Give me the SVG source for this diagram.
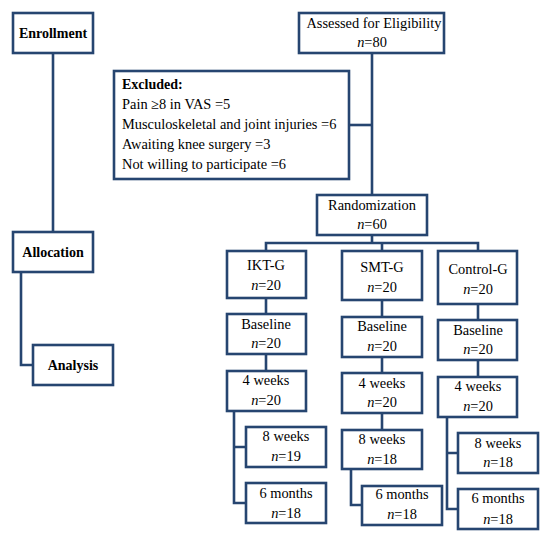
<svg xmlns="http://www.w3.org/2000/svg" width="552" height="535" viewBox="0 0 552 535">
<style>
.b{fill:#fff;stroke:#264570;stroke-width:2.6}
.c{fill:none;stroke:#264570;stroke-width:2.6}
</style>
<rect width="552" height="535" fill="#fff"/>
<g id="connectors">
<path class="c" d="M53 53V232"/>
<path class="c" d="M21 272V365H33"/>
<path class="c" d="M372 53V195"/>
<path class="c" d="M349 125H372"/>
<path class="c" d="M372 235V243M266 251V243H478V251M382 243V251"/>
<path class="c" d="M266 298V314M266 354V371"/>
<path class="c" d="M234 411V503H246M234 447H246"/>
<path class="c" d="M382 300V317M382 357V373M382 413V430"/>
<path class="c" d="M351 469V505H362"/>
<path class="c" d="M478 304V320M478 360V377"/>
<path class="c" d="M447 417V509H458M447 453H458"/>
</g>
<g id="enrollment"><rect class="b" x="13" y="13" width="80" height="40"/><text x="53" y="38" text-anchor="middle" style="font-family:'Liberation Serif','Times New Roman',serif;font-size:14px;font-weight:bold">Enrollment</text></g>
<g id="allocation"><rect class="b" x="13" y="232" width="80" height="40"/><text x="53" y="257" text-anchor="middle" style="font-family:'Liberation Serif','Times New Roman',serif;font-size:14px;font-weight:bold">Allocation</text></g>
<g id="analysis"><rect class="b" x="33" y="345" width="80" height="40"/><text x="73" y="370" text-anchor="middle" style="font-family:'Liberation Serif','Times New Roman',serif;font-size:14px;font-weight:bold">Analysis</text></g>
<g id="assessed"><rect class="b" x="299" y="13" width="145" height="40"/><text x="374" y="28" text-anchor="middle" style="font-family:'Liberation Serif','Times New Roman',serif;font-size:14.4px">Assessed for Eligibility</text><text x="372" y="47" text-anchor="middle" style="font-family:'Liberation Serif','Times New Roman',serif;font-size:14.4px"><tspan font-style="italic">n</tspan>=80</text></g>
<g id="excluded"><rect class="b" x="114" y="71" width="235" height="108"/>
<text x="122" y="89" style="font-family:'Liberation Serif','Times New Roman',serif;font-size:14px;font-weight:bold">Excluded:</text>
<text x="122" y="109" style="font-family:'Liberation Serif','Times New Roman',serif;font-size:14.4px">Pain ≥8 in VAS =5</text>
<text x="122" y="129" style="font-family:'Liberation Serif','Times New Roman',serif;font-size:14.4px">Musculoskeletal and joint injuries =6</text>
<text x="122" y="149" style="font-family:'Liberation Serif','Times New Roman',serif;font-size:14.4px">Awaiting knee surgery =3</text>
<text x="122" y="169" style="font-family:'Liberation Serif','Times New Roman',serif;font-size:14.4px">Not willing to participate =6</text></g>
<g id="randomization"><rect class="b" x="317" y="195" width="110" height="40"/><text x="372" y="210" text-anchor="middle" style="font-family:'Liberation Serif','Times New Roman',serif;font-size:14.4px">Randomization</text><text x="372" y="229" text-anchor="middle" style="font-family:'Liberation Serif','Times New Roman',serif;font-size:14.4px"><tspan font-style="italic">n</tspan>=60</text></g>
<g id="ikt"><rect class="b" x="227" y="251" width="79" height="47"/><text x="266" y="270" text-anchor="middle" style="font-family:'Liberation Serif','Times New Roman',serif;font-size:14.4px">IKT-G</text><text x="266" y="290" text-anchor="middle" style="font-family:'Liberation Serif','Times New Roman',serif;font-size:14.4px"><tspan font-style="italic">n</tspan>=20</text></g>
<g id="smt"><rect class="b" x="342" y="251" width="80" height="49"/><text x="382" y="272" text-anchor="middle" style="font-family:'Liberation Serif','Times New Roman',serif;font-size:14.4px">SMT-G</text><text x="382" y="292" text-anchor="middle" style="font-family:'Liberation Serif','Times New Roman',serif;font-size:14.4px"><tspan font-style="italic">n</tspan>=20</text></g>
<g id="control"><rect class="b" x="438" y="251" width="79" height="53"/><text x="478" y="274" text-anchor="middle" style="font-family:'Liberation Serif','Times New Roman',serif;font-size:14.4px">Control-G</text><text x="478" y="294" text-anchor="middle" style="font-family:'Liberation Serif','Times New Roman',serif;font-size:14.4px"><tspan font-style="italic">n</tspan>=20</text></g>
<g id="ikt-baseline"><rect class="b" x="227" y="314" width="79" height="40"/><text x="266" y="329" text-anchor="middle" style="font-family:'Liberation Serif','Times New Roman',serif;font-size:14.4px">Baseline</text><text x="266" y="348" text-anchor="middle" style="font-family:'Liberation Serif','Times New Roman',serif;font-size:14.4px"><tspan font-style="italic">n</tspan>=20</text></g>
<g id="smt-baseline"><rect class="b" x="342" y="317" width="80" height="40"/><text x="382" y="331" text-anchor="middle" style="font-family:'Liberation Serif','Times New Roman',serif;font-size:14.4px">Baseline</text><text x="382" y="351" text-anchor="middle" style="font-family:'Liberation Serif','Times New Roman',serif;font-size:14.4px"><tspan font-style="italic">n</tspan>=20</text></g>
<g id="control-baseline"><rect class="b" x="438" y="320" width="79" height="40"/><text x="478" y="335" text-anchor="middle" style="font-family:'Liberation Serif','Times New Roman',serif;font-size:14.4px">Baseline</text><text x="478" y="354" text-anchor="middle" style="font-family:'Liberation Serif','Times New Roman',serif;font-size:14.4px"><tspan font-style="italic">n</tspan>=20</text></g>
<g id="ikt-4w"><rect class="b" x="227" y="371" width="79" height="40"/><text x="266" y="385" text-anchor="middle" style="font-family:'Liberation Serif','Times New Roman',serif;font-size:14.4px">4 weeks</text><text x="266" y="405" text-anchor="middle" style="font-family:'Liberation Serif','Times New Roman',serif;font-size:14.4px"><tspan font-style="italic">n</tspan>=20</text></g>
<g id="smt-4w"><rect class="b" x="342" y="373" width="80" height="40"/><text x="382" y="388" text-anchor="middle" style="font-family:'Liberation Serif','Times New Roman',serif;font-size:14.4px">4 weeks</text><text x="382" y="407" text-anchor="middle" style="font-family:'Liberation Serif','Times New Roman',serif;font-size:14.4px"><tspan font-style="italic">n</tspan>=20</text></g>
<g id="control-4w"><rect class="b" x="438" y="377" width="79" height="40"/><text x="478" y="391" text-anchor="middle" style="font-family:'Liberation Serif','Times New Roman',serif;font-size:14.4px">4 weeks</text><text x="478" y="411" text-anchor="middle" style="font-family:'Liberation Serif','Times New Roman',serif;font-size:14.4px"><tspan font-style="italic">n</tspan>=20</text></g>
<g id="ikt-8w"><rect class="b" x="246" y="427" width="80" height="40"/><text x="286" y="441" text-anchor="middle" style="font-family:'Liberation Serif','Times New Roman',serif;font-size:14.4px">8 weeks</text><text x="286" y="461" text-anchor="middle" style="font-family:'Liberation Serif','Times New Roman',serif;font-size:14.4px"><tspan font-style="italic">n</tspan>=19</text></g>
<g id="smt-8w"><rect class="b" x="342" y="430" width="80" height="39"/><text x="382" y="444" text-anchor="middle" style="font-family:'Liberation Serif','Times New Roman',serif;font-size:14.4px">8 weeks</text><text x="382" y="464" text-anchor="middle" style="font-family:'Liberation Serif','Times New Roman',serif;font-size:14.4px"><tspan font-style="italic">n</tspan>=18</text></g>
<g id="control-8w"><rect class="b" x="458" y="433" width="80" height="40"/><text x="498" y="448" text-anchor="middle" style="font-family:'Liberation Serif','Times New Roman',serif;font-size:14.4px">8 weeks</text><text x="498" y="467" text-anchor="middle" style="font-family:'Liberation Serif','Times New Roman',serif;font-size:14.4px"><tspan font-style="italic">n</tspan>=18</text></g>
<g id="ikt-6m"><rect class="b" x="246" y="483" width="80" height="40"/><text x="286" y="498" text-anchor="middle" style="font-family:'Liberation Serif','Times New Roman',serif;font-size:14.4px">6 months</text><text x="286" y="518" text-anchor="middle" style="font-family:'Liberation Serif','Times New Roman',serif;font-size:14.4px"><tspan font-style="italic">n</tspan>=18</text></g>
<g id="smt-6m"><rect class="b" x="362" y="486" width="80" height="39"/><text x="402" y="499" text-anchor="middle" style="font-family:'Liberation Serif','Times New Roman',serif;font-size:14.4px">6 months</text><text x="402" y="519" text-anchor="middle" style="font-family:'Liberation Serif','Times New Roman',serif;font-size:14.4px"><tspan font-style="italic">n</tspan>=18</text></g>
<g id="control-6m"><rect class="b" x="458" y="489" width="80" height="40"/><text x="498" y="503" text-anchor="middle" style="font-family:'Liberation Serif','Times New Roman',serif;font-size:14.4px">6 months</text><text x="498" y="524" text-anchor="middle" style="font-family:'Liberation Serif','Times New Roman',serif;font-size:14.4px"><tspan font-style="italic">n</tspan>=18</text></g>
</svg>
